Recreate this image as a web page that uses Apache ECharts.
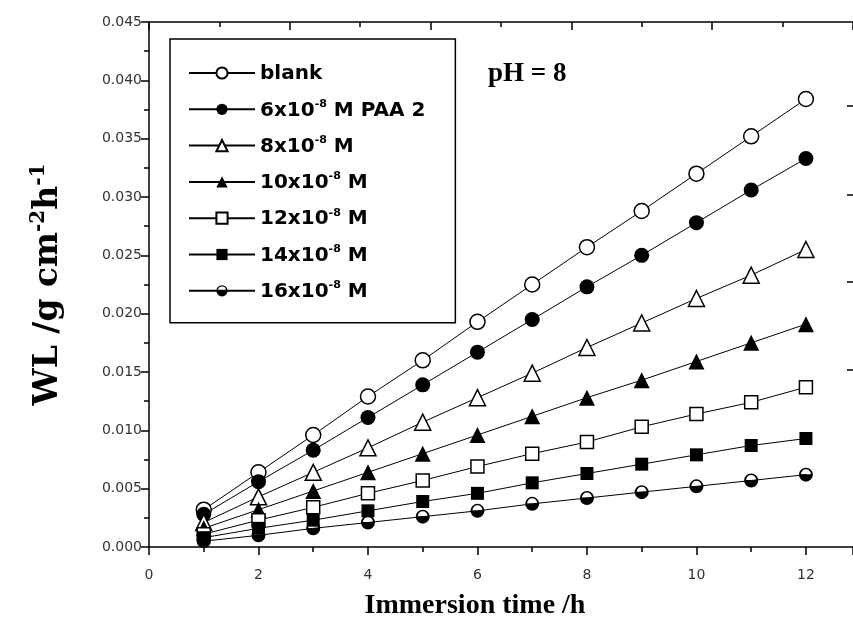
<!DOCTYPE html>
<html>
<head>
<meta charset="utf-8">
<script src="https://cdn.jsdelivr.net/npm/echarts@6/dist/echarts.min.js"></script>
<style>
  html, body { margin: 0; padding: 0; background: #fff; }
  #chart { width: 853px; height: 625px; }
</style>
</head>
<body>
<div id="chart"></div>
<script>
// immersion time (h)
var times = [1, 2, 3, 4, 5, 6, 7, 8, 9, 10, 11, 12];
// weight loss, g cm-2 h-1
var blank = [0.0032, 0.0064, 0.0096, 0.0129, 0.0160, 0.0193, 0.0225, 0.0257, 0.0288, 0.0320, 0.0352, 0.0384];
var paa6  = [0.0028, 0.0056, 0.0083, 0.0111, 0.0139, 0.0167, 0.0195, 0.0223, 0.0250, 0.0278, 0.0306, 0.0333];
var paa8  = [0.0021, 0.0043, 0.0064, 0.0085, 0.0107, 0.0128, 0.0149, 0.0171, 0.0192, 0.0213, 0.0233, 0.0255];
var paa10 = [0.0016, 0.0032, 0.0048, 0.0064, 0.0080, 0.0096, 0.0112, 0.0128, 0.0143, 0.0159, 0.0175, 0.0191];
var paa12 = [0.0011, 0.0023, 0.0034, 0.0046, 0.0057, 0.0069, 0.0080, 0.0090, 0.0103, 0.0114, 0.0124, 0.0137];
var paa14 = [0.0008, 0.0016, 0.0023, 0.0031, 0.0039, 0.0046, 0.0055, 0.0063, 0.0071, 0.0079, 0.0087, 0.0093];
var paa16 = [0.0005, 0.0010, 0.0016, 0.0021, 0.0026, 0.0031, 0.0037, 0.0042, 0.0047, 0.0052, 0.0057, 0.0062];
var seriesNames = ['blank', '6x10-8 M PAA 2', '8x10-8 M', '10x10-8 M', '12x10-8 M', '14x10-8 M', '16x10-8 M'];
// odd little ticks of the right frame
var rightTicks = [0.0152, 0.0227, 0.0302, 0.0378];

var halfCircle = 'path://M0,50 A50,50 0 1,1 100,50 A50,50 0 1,1 0,50 Z M86,47 A36,36 0 0,0 14,47 Z';

function pairs(vals) {
    return times.map(function (t, i) { return [t, vals[i]]; });
}

function mk(name, vals, symbol, size, filled) {
    return {
        name: name,
        type: 'line',
        data: pairs(vals),
        symbol: symbol,
        symbolSize: size,
        showAllSymbol: true,
        lineStyle: { color: '#000', width: 1 },
        itemStyle: {
            color: filled ? '#000' : '#fff',
            borderColor: '#000',
            borderWidth: filled ? 0 : 1.5
        },
        emphasis: { disabled: true },
        animation: false
    };
}

var chart = echarts.init(document.getElementById('chart'));
var option = {
    backgroundColor: '#fff',
    title: {
        text: 'pH = 8',
        left: 483,
        top: 56,
        textStyle: { fontFamily: 'Liberation Serif', fontWeight: 'bold', fontSize: 27, color: '#000' }
    },
    legend: {
        orient: 'vertical',
        left: 170,
        top: 39,
        padding: [25, 30, 21, 18],
        borderColor: '#000',
        borderWidth: 1.5,
        itemWidth: 66,
        itemHeight: 14,
        itemGap: 14.3,
        data: seriesNames,
        formatter: function (name) {
            return '{b|' + name.replace('10-8', '10}{s|-8}{b|') + '}';
        },
        textStyle: {
            color: '#000',
            rich: {
                b: { fontFamily: 'DejaVu Sans', fontWeight: 'bold', fontSize: 20, color: '#000', lineHeight: 22, verticalAlign: 'bottom' },
                s: { fontFamily: 'DejaVu Sans', fontWeight: 'bold', fontSize: 11, color: '#000', lineHeight: 22, verticalAlign: 'top' }
            }
        }
    },
    grid: { left: 149, top: 22, right: 0, bottom: 78 },
    xAxis: [{
        type: 'value',
        min: 0,
        max: 12.86,
        interval: 2,
        name: 'Immersion time /h',
        nameLocation: 'middle',
        nameGap: 45,
        nameTextStyle: { fontFamily: 'Liberation Serif', fontWeight: 'bold', fontSize: 28, color: '#000', padding: [0, 52, 0, 0] },
        axisLine: { lineStyle: { color: '#000', width: 1.5 } },
        axisTick: { length: 8, lineStyle: { color: '#000', width: 1.5 } },
        minorTick: { show: true, splitNumber: 2, length: 5, lineStyle: { color: '#000', width: 1.5 } },
        axisLabel: { color: '#333', fontFamily: 'DejaVu Sans', fontSize: 14, margin: 21, showMaxLabel: false },
        splitLine: { show: false }
    }, {
        type: 'value',
        position: 'top',
        min: 0,
        max: 10,
        interval: 2,
        axisLine: { onZero: false, lineStyle: { color: '#000', width: 1.5 } },
        axisTick: { inside: true, length: 8, lineStyle: { color: '#000', width: 1.5 } },
        minorTick: { show: true, splitNumber: 2, length: 5, lineStyle: { color: '#000', width: 1.5 } },
        axisLabel: { show: false },
        splitLine: { show: false }
    }],
    yAxis: [{
        type: 'value',
        min: 0,
        max: 0.045,
        interval: 0.005,
        name: '{t|WL /g cm}{s|-2}{t|h}{s|-1}',
        nameLocation: 'middle',
        nameGap: 84,
        nameRotate: 90,
        nameTextStyle: {
            rich: {
                t: { fontFamily: 'DejaVu Serif', fontWeight: 'bold', fontSize: 33, color: '#000', lineHeight: 36, verticalAlign: 'bottom' },
                s: { fontFamily: 'DejaVu Serif', fontWeight: 'bold', fontSize: 20, color: '#000', lineHeight: 36, verticalAlign: 'top' }
            }
        },
        axisLine: { lineStyle: { color: '#000', width: 1.5 } },
        axisTick: { length: 8, lineStyle: { color: '#000', width: 1.5 } },
        minorTick: { show: true, splitNumber: 2, length: 5, lineStyle: { color: '#000', width: 1.5 } },
        axisLabel: {
            color: '#333', fontFamily: 'DejaVu Sans', fontSize: 14, margin: 7,
            formatter: function (v) { return v.toFixed(3); }
        },
        splitLine: { show: false }
    }, {
        type: 'value',
        position: 'right',
        min: 0,
        max: 0.045,
        axisLine: { show: false, onZero: false },
        axisTick: { show: true, inside: true, length: 6, customValues: rightTicks, lineStyle: { color: '#000', width: 1.5 } },
        axisLabel: { show: false },
        splitLine: { show: false }
    }],
    series: [
        mk(seriesNames[0], blank, 'circle', 15, false),
        mk(seriesNames[1], paa6, 'circle', 15, true),
        mk(seriesNames[2], paa8, 'triangle', 16, false),
        mk(seriesNames[3], paa10, 'triangle', 16, true),
        mk(seriesNames[4], paa12, 'rect', 13, false),
        mk(seriesNames[5], paa14, 'rect', 13, true),
        mk(seriesNames[6], paa16, halfCircle, 14, true)
    ]
};
chart.setOption(option);
</script>
</body>
</html>
